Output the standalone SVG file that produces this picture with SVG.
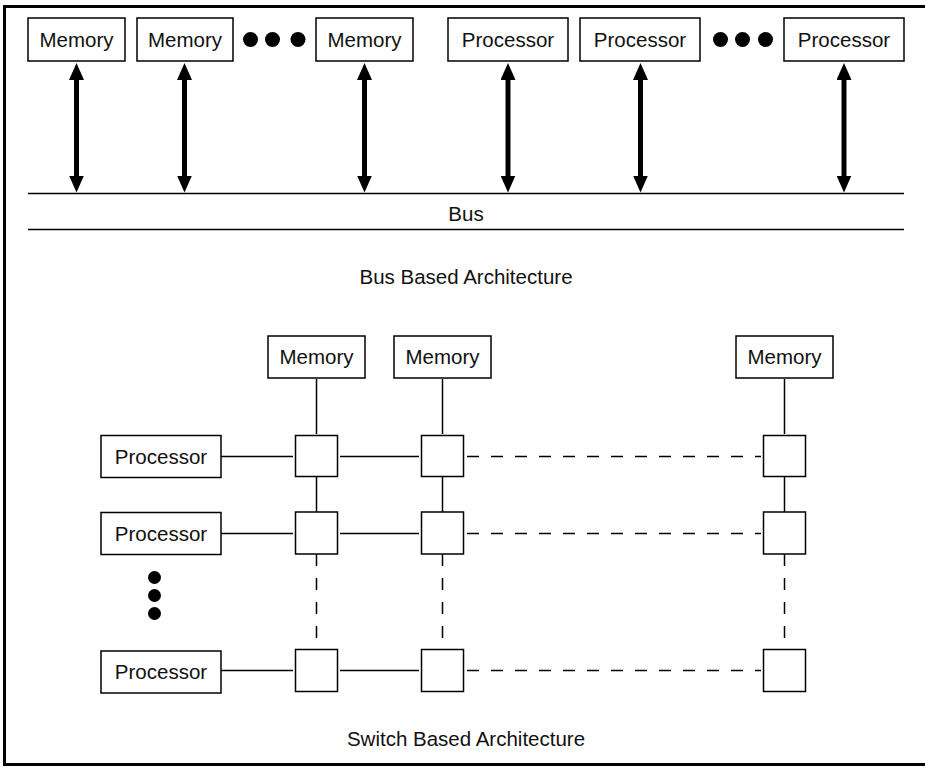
<svg xmlns="http://www.w3.org/2000/svg" width="925" height="767" viewBox="0 0 925 767">
  <style>
    .box { fill: #fff; stroke: #000; stroke-width: 1.5; }
    .sw { fill: #fff; stroke: #000; stroke-width: 1.5; }
    .lbl { font-family: "Liberation Sans", Arial, sans-serif; font-size: 20.5px; fill: #111; text-anchor: middle; }
    .wire { stroke: #000; stroke-width: 1.5; fill: none; }
    .dash { stroke: #000; stroke-width: 1.5; fill: none; stroke-dasharray: 12 12; }
    .bi { stroke: #000; stroke-width: 5; fill: none; marker-start: url(#head); marker-end: url(#head); }
    .dot { fill: #000; }
  </style>
  <defs>
    <!-- arrowhead sits beyond the line end so the thick shaft never pokes through the tip -->
    <marker id="head" viewBox="0 0 17 15" refX="0.5" refY="7.5" markerWidth="17" markerHeight="15" markerUnits="userSpaceOnUse" orient="auto-start-reverse">
      <path d="M0,0 L17,7.5 L0,15 Z" fill="#000"/>
    </marker>
  </defs>

  <rect width="925" height="767" fill="#fff"/>

  <!-- frame: open on the right -->
  <path d="M925,6.5 H4.5 V764.5 H925" fill="none" stroke="#000" stroke-width="3"/>

  <!-- ===== Bus based architecture ===== -->
  <g id="bus">
    <line class="wire" x1="28" y1="193.5" x2="904" y2="193.5"/>
    <line class="wire" x1="28" y1="229.5" x2="904" y2="229.5"/>
    <text class="lbl" x="466" y="221">Bus</text>
  </g>

  <g id="bus-mem1"><rect class="box" x="28" y="18" width="97" height="43"/><text class="lbl" x="76.5" y="47">Memory</text></g>
  <g id="bus-mem2"><rect class="box" x="137" y="18" width="96" height="43"/><text class="lbl" x="185" y="47">Memory</text></g>
  <g id="bus-mem3"><rect class="box" x="316" y="18" width="97" height="43"/><text class="lbl" x="364.5" y="47">Memory</text></g>
  <g id="bus-proc1"><rect class="box" x="448" y="18" width="120" height="43"/><text class="lbl" x="508" y="47">Processor</text></g>
  <g id="bus-proc2"><rect class="box" x="580" y="18" width="120" height="43"/><text class="lbl" x="640" y="47">Processor</text></g>
  <g id="bus-proc3"><rect class="box" x="784" y="18" width="120" height="43"/><text class="lbl" x="844" y="47">Processor</text></g>

  <g id="bus-ellipsis">
    <circle class="dot" cx="250.5" cy="39.5" r="7.5"/>
    <circle class="dot" cx="272.5" cy="39.5" r="7.5"/>
    <circle class="dot" cx="298" cy="39.5" r="7.5"/>
    <circle class="dot" cx="720.5" cy="39.5" r="7.5"/>
    <circle class="dot" cx="742.5" cy="39.5" r="7.5"/>
    <circle class="dot" cx="765.5" cy="39.5" r="7.5"/>
  </g>

  <g id="bus-links">
    <line class="bi" x1="76.5" y1="79.5" x2="76.5" y2="176"/>
    <line class="bi" x1="184.5" y1="79.5" x2="184.5" y2="176"/>
    <line class="bi" x1="364.5" y1="79.5" x2="364.5" y2="176"/>
    <line class="bi" x1="508" y1="79.5" x2="508" y2="176"/>
    <line class="bi" x1="640.5" y1="79.5" x2="640.5" y2="176"/>
    <line class="bi" x1="844" y1="79.5" x2="844" y2="176"/>
  </g>

  <text class="lbl" x="466" y="284">Bus Based Architecture</text>

  <!-- ===== Switch based architecture ===== -->
  <g id="connectors">
    <!-- memory to first switch row -->
    <line class="wire" x1="316.5" y1="379" x2="316.5" y2="434"/>
    <line class="wire" x1="442.5" y1="379" x2="442.5" y2="434"/>
    <line class="wire" x1="784.5" y1="379" x2="784.5" y2="434"/>
    <!-- between row 1 and row 2 -->
    <line class="wire" x1="316.5" y1="477" x2="316.5" y2="512"/>
    <line class="wire" x1="442.5" y1="477" x2="442.5" y2="512"/>
    <line class="wire" x1="784.5" y1="477" x2="784.5" y2="512"/>
    <!-- row 2 down to last row -->
    <line class="dash" x1="316.5" y1="554" x2="316.5" y2="649"/>
    <line class="dash" x1="442.5" y1="554" x2="442.5" y2="649"/>
    <line class="dash" x1="784.5" y1="554" x2="784.5" y2="649"/>
    <!-- processor rows -->
    <line class="wire" x1="221" y1="456.5" x2="293" y2="456.5"/>
    <line class="wire" x1="340" y1="456.5" x2="419" y2="456.5"/>
    <line class="dash" x1="467" y1="456.5" x2="761" y2="456.5"/>
    <line class="wire" x1="221" y1="533.5" x2="293" y2="533.5"/>
    <line class="wire" x1="340" y1="533.5" x2="419" y2="533.5"/>
    <line class="dash" x1="467" y1="533.5" x2="761" y2="533.5"/>
    <line class="wire" x1="221" y1="670.5" x2="293" y2="670.5"/>
    <line class="wire" x1="340" y1="670.5" x2="419" y2="670.5"/>
    <line class="dash" x1="467" y1="670.5" x2="761" y2="670.5"/>
  </g>

  <g id="sw-mem1"><rect class="box" x="268" y="336" width="97" height="42"/><text class="lbl" x="316.5" y="364">Memory</text></g>
  <g id="sw-mem2"><rect class="box" x="394" y="336" width="97" height="42"/><text class="lbl" x="442.5" y="364">Memory</text></g>
  <g id="sw-mem3"><rect class="box" x="736" y="336" width="97" height="42"/><text class="lbl" x="784.5" y="364">Memory</text></g>

  <g id="sw-proc1"><rect class="box" x="101" y="435.5" width="120" height="42"/><text class="lbl" x="161" y="463.5">Processor</text></g>
  <g id="sw-proc2"><rect class="box" x="101" y="512.5" width="120" height="42"/><text class="lbl" x="161" y="540.5">Processor</text></g>
  <g id="sw-proc3"><rect class="box" x="101" y="651" width="120" height="42"/><text class="lbl" x="161" y="679">Processor</text></g>

  <g id="sw-ellipsis">
    <circle class="dot" cx="154.5" cy="577.5" r="6.5"/>
    <circle class="dot" cx="154.5" cy="595.5" r="6.5"/>
    <circle class="dot" cx="154.5" cy="613.5" r="6.5"/>
  </g>

  <g id="switch-r1c1"><rect class="sw" x="295.5" y="435.5" width="42" height="41"/></g>
  <g id="switch-r1c2"><rect class="sw" x="421.5" y="435.5" width="42" height="41"/></g>
  <g id="switch-r1c3"><rect class="sw" x="763.5" y="435.5" width="42" height="41"/></g>
  <g id="switch-r2c1"><rect class="sw" x="295.5" y="512" width="42" height="42"/></g>
  <g id="switch-r2c2"><rect class="sw" x="421.5" y="512" width="42" height="42"/></g>
  <g id="switch-r2c3"><rect class="sw" x="763.5" y="512" width="42" height="42"/></g>
  <g id="switch-r3c1"><rect class="sw" x="295.5" y="649.5" width="42" height="42"/></g>
  <g id="switch-r3c2"><rect class="sw" x="421.5" y="649.5" width="42" height="42"/></g>
  <g id="switch-r3c3"><rect class="sw" x="763.5" y="649.5" width="42" height="42"/></g>

  <text class="lbl" x="466" y="745.5">Switch Based Architecture</text>
</svg>
